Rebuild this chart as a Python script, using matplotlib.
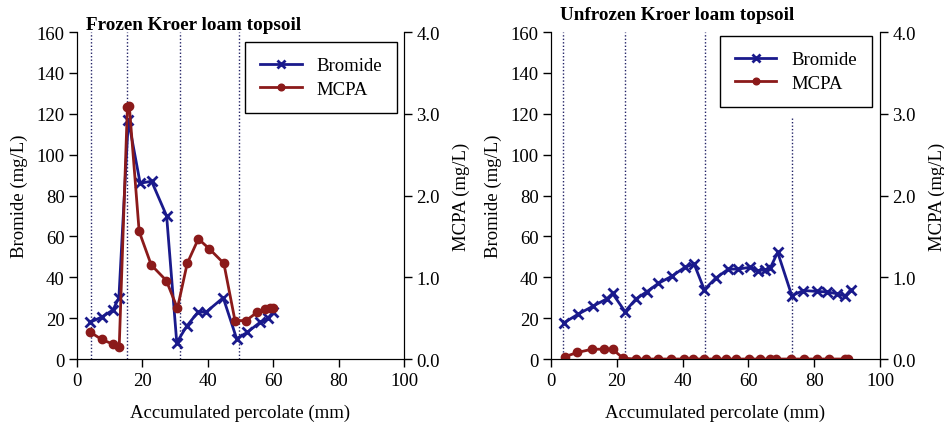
import numpy as np
import matplotlib.pyplot as plt

plt.rcParams['font.family'] = ['Liberation Serif', 'DejaVu Serif']

# frozen soil
fz_br_x = [4, 7.5, 11, 12.8, 15.7, 19.3, 22.8, 27.4, 30.5, 33.5, 37, 39.5, 44.7, 48.8, 52, 56, 58.5, 60]
fz_br_y = [18, 20.5, 24, 30, 117, 86, 87, 70, 8, 16, 23, 23, 30, 10, 13, 18, 20, 23]
fz_mc_x = [4, 7.5, 11.1, 12.9, 15.4, 16, 19, 22.7, 27.3, 30.7, 33.7, 37.1, 40.4, 44.9, 48.3, 51.7, 55, 57.5, 59, 60]
fz_mc_y = [0.33, 0.24, 0.18, 0.15, 3.08, 3.09, 1.56, 1.15, 0.96, 0.62, 1.17, 1.47, 1.35, 1.17, 0.47, 0.47, 0.57, 0.61, 0.62, 0.62]
fz_lines = [4.2, 15.2, 31.6, 49.6]

# unfrozen soil
uf_br_x = [3.8, 8.3, 12.7, 16.9, 18.7, 22.5, 25.8, 29.1, 32.6, 36.7, 40.7, 43.5, 46.6, 50, 53.9,
           56.9, 60.5, 63, 65, 66.6, 68.9, 73.2, 76.7, 80.8, 84, 86.8, 89.4, 91.1]
uf_br_y = [17.6, 22, 25.8, 29.4, 32.1, 23.2, 29.4, 32.9, 37, 40.5, 44.9, 46.5, 33.9, 39.5, 44,
           44, 44.9, 43.2, 43.7, 44.4, 52.2, 31, 33.5, 33.1, 32.8, 32, 30.8, 33.9]
uf_mc_x = [4.3, 8, 12.5, 16.1, 18.7, 21.9, 25.7, 29, 32.6, 36.6, 40.5, 43.2, 46.6, 50.1, 53.1,
           56.2, 60.1, 63.5, 66.5, 68.4, 72.9, 77, 80.8, 84.6, 89.4, 90.4]
uf_mc_y = [0.03, 0.08, 0.12, 0.12, 0.12, 0.01, 0, 0, 0, 0, 0, 0, 0, 0, 0,
           0, 0, 0, 0, 0, 0, 0, 0, 0, 0, 0]
uf_lines = [3.6, 22.6, 46.9, 73.3]
uf_lines_top = [160, 160, 160, 119]

blue = '#1a1a8c'
red = '#8b1a1a'
fs = 13.5

fig = plt.figure(figsize=(9.44, 4.31), dpi=100)


def panel(rect, title, title_x, title_y, br_x, br_y, mc_x, mc_y, lines, tops, leg_anchor):
    ax = fig.add_axes(rect)
    ax2 = ax.twinx()
    for xv, top in zip(lines, tops):
        ax.plot([xv, xv], [0, top], color='#222266', lw=1, ls=(0, (1, 1.5)))
    ax.plot(br_x, br_y, color=blue, lw=2, marker='x', ms=7, mew=2, label='Bromide')
    ax2.plot(mc_x, mc_y, color=red, lw=2, marker='o', ms=6, label='MCPA')
    ax.set_xlim(0, 100)
    ax.set_ylim(0, 160)
    ax2.set_ylim(0, 4)
    ax.set_xticks(np.arange(0, 101, 20))
    ax.set_yticks(np.arange(0, 161, 20))
    ax2.set_yticks(np.arange(0, 4.1, 1.0))
    ax2.set_yticklabels(['%.1f' % v for v in np.arange(0, 4.1, 1.0)])
    for a in (ax, ax2):
        a.spines['top'].set_visible(False)
        a.tick_params(direction='out', length=6, width=1, labelsize=fs, pad=3)
    ax.set_xlabel('Accumulated percolate (mm)', fontsize=fs, labelpad=11)
    ax.set_ylabel('Bromide (mg/L)', fontsize=fs, labelpad=6)
    ax2.set_ylabel('MCPA (mg/L)', fontsize=fs, labelpad=9)
    fig.text(title_x, title_y, title, fontsize=13.8, fontweight='bold', va='center')
    h1, l1 = ax.get_legend_handles_labels()
    h2, l2 = ax2.get_legend_handles_labels()
    leg = ax2.legend(h1 + h2, l1 + l2, loc='upper right', bbox_to_anchor=leg_anchor,
                     borderaxespad=0, fontsize=fs, fancybox=False, framealpha=1,
                     edgecolor='black', handlelength=2.2, borderpad=0.8,
                     labelspacing=0.35, markerscale=0.8)
    leg.get_frame().set_linewidth(1)
    return ax


panel([0.0816, 0.1647, 0.3464, 0.7587], 'Frozen Kroer loam topsoil', 86 / 944, 1 - 25 / 431,
      fz_br_x, fz_br_y, fz_mc_x, fz_mc_y, fz_lines, [160] * 4, (0.979, 0.969))
panel([0.5837, 0.1647, 0.3485, 0.7587], 'Unfrozen Kroer loam topsoil', 560 / 944, 1 - 16 / 431,
      uf_br_x, uf_br_y, uf_mc_x, uf_mc_y, uf_lines, uf_lines_top, (0.976, 0.988))

fig.savefig('out.png', dpi=100)
